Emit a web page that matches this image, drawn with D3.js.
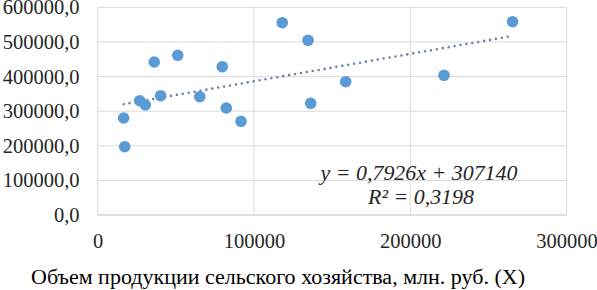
<!DOCTYPE html>
<html><head><meta charset="utf-8">
<script src="https://cdn.jsdelivr.net/npm/d3@7"></script>
<style>body{margin:0;background:#fff}svg{display:block}</style>
</head><body>
<svg id="c" width="597" height="290"></svg>
<script>
const xValues = [16600,17300,26900,30500,36200,40300,51200,65300,79700,82300,91700,118100,134600,136300,158700,221600,265500];
const yValues = [280300,197400,330300,317900,442200,344800,461600,341900,428600,309200,270800,555800,504900,322800,385300,403800,558700];
const xTicks = [0,100000,200000,300000];
const yTicks = [0,100000,200000,300000,400000,500000,600000];
const slope = 0.7926, intercept = 307140;
const eqText = "y = 0,7926x + 307140";
const r2Text = "R² = 0,3198";
const xTitle = "Объем продукции сельского хозяйства, млн. руб. (X)";

const FONT = "'Liberation Serif', 'Times New Roman', serif";
const svg = d3.select("#c");
const x = d3.scaleLinear().domain([0,300000]).range([97.7,566.5]);
const y = d3.scaleLinear().domain([0,600000]).range([215,7.4]);

svg.append("g").selectAll("line").data(yTicks.slice(1)).join("line")
  .attr("x1",x(0)).attr("x2",x(300000)).attr("y1",d=>y(d)).attr("y2",d=>y(d))
  .attr("stroke","#d9d9d9").attr("stroke-width",1);
svg.append("g").selectAll("line").data(xTicks).join("line")
  .attr("x1",d=>x(d)).attr("x2",d=>x(d)).attr("y1",y(0)).attr("y2",y(600000))
  .attr("stroke","#d9d9d9").attr("stroke-width",1);
svg.append("line").attr("x1",x(0)).attr("x2",x(300000)).attr("y1",y(0)).attr("y2",y(0))
  .attr("stroke","#bfbfbf").attr("stroke-width",1);

const yAxis = d3.axisLeft(y).tickValues(yTicks).tickSize(0).tickPadding(0)
  .tickFormat(d=>d.toFixed(1).replace(".",","));
const gy = svg.append("g").attr("transform","translate(79.5,0)").call(yAxis);
gy.attr("font-family",null).attr("font-size",null);
gy.select(".domain").remove();
gy.selectAll("text").style("font-family",FONT).style("font-size","20.5px").attr("fill","#262626");

const xAxis = d3.axisBottom(x).tickValues(xTicks).tickSize(0).tickPadding(0).tickFormat(d=>String(d));
const gx = svg.append("g").attr("transform","translate(0,233)").call(xAxis);
gx.attr("font-family",null).attr("font-size",null);
gx.select(".domain").remove();
gx.selectAll("text").style("font-family",FONT).style("font-size","20.5px").attr("fill","#262626");

const xmin = d3.min(xValues), xmax = d3.max(xValues);
svg.append("line")
  .attr("x1",x(xmin)).attr("y1",y(slope*xmin+intercept))
  .attr("x2",x(xmax)).attr("y2",y(slope*xmax+intercept))
  .attr("stroke","#6d83a6").attr("stroke-width",2.6)
  .attr("stroke-linecap","round").attr("stroke-dasharray","0 6");

svg.append("g").selectAll("circle").data(xValues.map((v,i)=>[v,yValues[i]])).join("circle")
  .attr("cx",d=>x(d[0])).attr("cy",d=>y(d[1])).attr("r",5.8)
  .attr("fill","#5b9bd5");

svg.append("text").attr("x",320.5).attr("y",180)
  .attr("textLength",197).attr("lengthAdjust","spacingAndGlyphs")
  .style("font-family",FONT).style("font-size","20.5px").style("font-style","italic").attr("fill","#262626").text(eqText);
svg.append("text").attr("x",368).attr("y",203.5)
  .attr("textLength",106).attr("lengthAdjust","spacingAndGlyphs")
  .style("font-family",FONT).style("font-size","20.5px").style("font-style","italic").attr("fill","#262626").text(r2Text);

svg.append("text").attr("x",31).attr("y",284)
  .attr("textLength",494).attr("lengthAdjust","spacingAndGlyphs")
  .style("font-family",FONT).style("font-size","20.5px").attr("fill","#000").text(xTitle);
</script>
</body></html>
